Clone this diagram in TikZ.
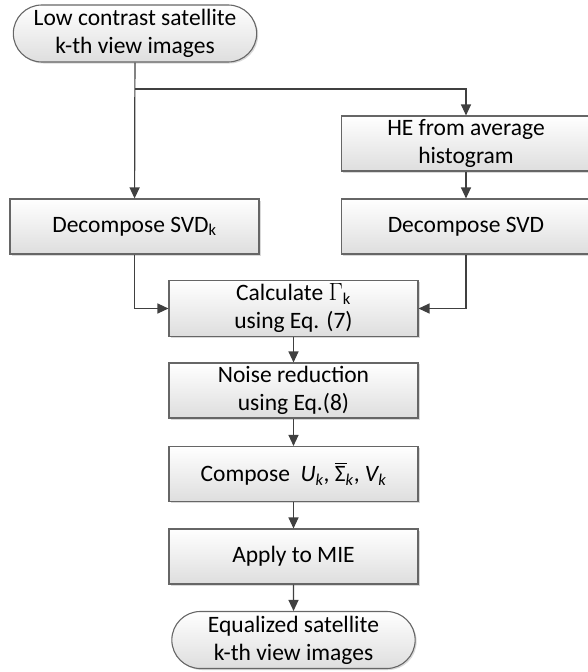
\documentclass[tikz,border=0pt]{standalone}
\usepackage{fontspec}
\setmainfont{Carlito}
\usetikzlibrary{arrows.meta,shapes.misc,shadows}

\begin{document}
\begin{tikzpicture}[x=1pt,y=-1pt,
every node/.style={anchor=center,
minimum width = 249pt,
minimum height =55pt,
align=center,
font=\fontsize{23.5}{28}\selectfont
},
box/.style={%
draw=black!60,
line width=1.1pt,
top color=white,
bottom color=black!13,
drop shadow={shadow xshift=1.5pt,shadow yshift=-1.5pt,opacity=0.3}
},
term/.style={%
box,
rounded rectangle,
minimum width=250pt,
minimum height=57pt
},
flow/.style={-{Triangle[length=11pt,width=10pt]},line width=1.2pt,draw=black!75}]
\useasboundingbox (0,0) rectangle (588,672);
\node[term]at(135,33.5)(start){Low contrast satellite\\k-th view images};
\node[box]at(466,143.5)(he){HE from average\\histogram};
\node[box]at(134.5,226.5)(dsvdk){Decompose SVD\textsubscript{k}};
\node[box]at(466,226.5)(dsvd){Decompose SVD};
\node[box]at(293.5,308.5)(calc){Calculate $\Gamma$\textsubscript{k}\\using Eq. (7)};
\node[box]at(293.5,390.5)(noise){Noise reduction\\using Eq.(8)};
\node[box]at(293.5,474)(comp){Compose~ \textit{U\textsubscript{k}},~\rlap{\rule[0.74em]{0.5em}{0.06em}}Σ\textsubscript{\textit{k}}, \textit{V\textsubscript{k}}};
\node[box]at(293.5,556.5)(apply){Apply to MIE};
\node[term]at(293.5,640)(stop){Equalized satellite\\k-th view images};
\coordinate (split) at (135,89);
\draw [flow] (start)--(dsvdk);
\draw [flow] (split)-|(he);
\draw [flow] (he)--(dsvd);
\draw [flow] (dsvdk)|-(calc);
\draw [flow] (dsvd)|-(calc);
\draw [flow] (calc)--(noise);
\draw [flow] (noise)--(comp);
\draw [flow] (comp)--(apply);
\draw [flow] (apply)--(stop);
\end{tikzpicture}
\end{document}
